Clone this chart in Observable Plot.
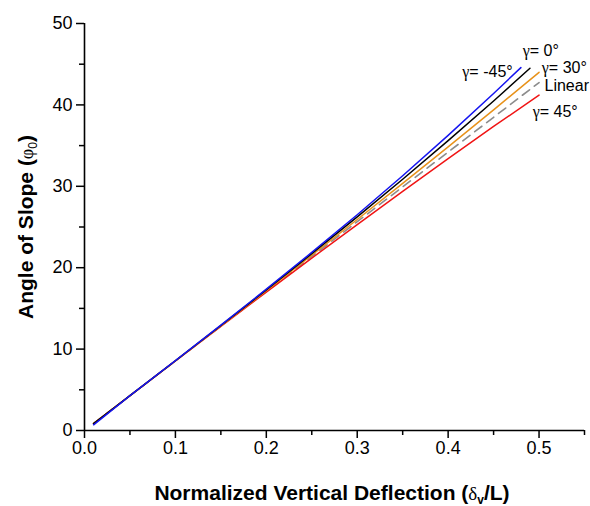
<!DOCTYPE html>
<html>
<head>
<meta charset="utf-8">
<script src="https://cdn.jsdelivr.net/npm/d3@7"></script>
<script src="https://cdn.jsdelivr.net/npm/@observablehq/plot@0.6"></script>
<style>
  body { margin: 0; background: white; }
  #chart { width: 590px; height: 506px; }
</style>
</head>
<body>
<div id="chart"></div>
<script>
// Normalized vertical deflection (x) sample points per series
const xNeg45 = [0.01, 0.05, 0.10, 0.15, 0.20, 0.25, 0.30, 0.35, 0.40, 0.45, 0.48];
const yNeg45 = [0.70, 4.28, 8.58, 12.94, 17.36, 21.88, 26.51, 31.30, 36.25, 41.40, 44.58];

const xZero = [0.01, 0.05, 0.10, 0.15, 0.20, 0.25, 0.30, 0.35, 0.40, 0.45, 0.49];
const yZero = [0.85, 4.28, 8.57, 12.90, 17.28, 21.72, 26.24, 30.87, 35.61, 40.48, 44.50];

const xThirty = [0.01, 0.05, 0.10, 0.15, 0.20, 0.25, 0.30, 0.35, 0.40, 0.45, 0.50];
const yThirty = [0.85, 4.28, 8.56, 12.86, 17.18, 21.53, 25.92, 30.36, 34.84, 39.39, 44.00];

const xLinear = [0.01, 0.05, 0.10, 0.15, 0.20, 0.25, 0.30, 0.35, 0.40, 0.45, 0.50];
const yLinear = [0.86, 4.28, 8.55, 12.83, 17.10, 21.38, 25.65, 29.93, 34.20, 38.48, 42.75];

const xPos45 = [0.01, 0.05, 0.10, 0.15, 0.20, 0.25, 0.30, 0.35, 0.40, 0.45, 0.50];
const yPos45 = [0.85, 4.27, 8.54, 12.79, 17.00, 21.18, 25.30, 29.38, 33.40, 37.35, 41.20];

// Tick values
const xMajorTicks = [0, 0.1, 0.2, 0.3, 0.4, 0.5];
const xMinorTicks = [0.05, 0.15, 0.25, 0.35, 0.45, 0.55];
const yMajorTicks = [0, 10, 20, 30, 40, 50];
const yMinorTicks = [5, 15, 25, 35, 45];

// Curve labels
const labelText = ["γ= -45°", "γ= 0°", "γ= 30°", "Linear", "γ= 45°"];
const labelX = [0.471, 0.482, 0.503, 0.506, 0.493];
const labelY = [44.1, 46.6, 44.6, 42.3, 39.2];
const labelAnchor = ["end", "start", "start", "start", "start"];

const toRows = (xs, ys) => xs.map((x, i) => ({x, y: ys[i]}));
const labels = labelText.map((t, i) => ({t, x: labelX[i], y: labelY[i], a: labelAnchor[i]}));

const font = "'Liberation Sans', Arial, Helvetica, sans-serif";
const serif = "'Liberation Serif', 'Times New Roman', serif";

const plot = Plot.plot({
  width: 590,
  height: 506,
  marginLeft: 84,
  marginRight: 6,
  marginTop: 23,
  marginBottom: 76,
  style: {fontFamily: font, fontSize: "18px", color: "black", background: "white"},
  x: {domain: [0, 0.55], label: null},
  y: {domain: [0, 50], label: null},
  marks: [
    Plot.line(toRows(xLinear, yLinear), {x: "x", y: "y", stroke: "#8c8c8c", strokeWidth: 1.6, strokeDasharray: "9,6"}),
    Plot.line(toRows(xPos45, yPos45), {x: "x", y: "y", stroke: "#f01414", strokeWidth: 1.5}),
    Plot.line(toRows(xThirty, yThirty), {x: "x", y: "y", stroke: "#e8921a", strokeWidth: 1.5}),
    Plot.line(toRows(xZero, yZero), {x: "x", y: "y", stroke: "#000000", strokeWidth: 1.5}),
    Plot.line(toRows(xNeg45, yNeg45), {x: "x", y: "y", stroke: "#1414f0", strokeWidth: 1.5}),
    Plot.axisX({ticks: xMajorTicks, tickSize: 8, tickPadding: 3, tickFormat: d3.format(".1f"), strokeWidth: 1.5, fontSize: 18, label: null}),
    Plot.axisX({ticks: xMinorTicks, tickSize: 5, tickFormat: () => "", strokeWidth: 1.5, label: null}),
    Plot.axisY({ticks: yMajorTicks, tickSize: 8, tickPadding: 4, strokeWidth: 1.5, fontSize: 18, label: null}),
    Plot.axisY({ticks: yMinorTicks, tickSize: 5, tickFormat: () => "", strokeWidth: 1.5, label: null}),
    Plot.ruleY([0], {stroke: "black", strokeWidth: 1.6}),
    Plot.ruleX([0], {stroke: "black", strokeWidth: 1.6}),
    Plot.text(labels, {x: "x", y: "y", text: "t", textAnchor: "end", fontSize: 16, fill: "black", filter: d => d.a === "end", className: "curve-label"}),
    Plot.text(labels, {x: "x", y: "y", text: "t", textAnchor: "start", fontSize: 16, fill: "black", filter: d => d.a === "start", className: "curve-label"})
  ]
});

const svg = d3.select(plot);

// Serif gamma in curve labels
svg.selectAll(".curve-label text").each(function() {
  const el = d3.select(this);
  const s = el.text();
  if (s.startsWith("γ")) {
    el.text(null);
    el.append("tspan").attr("font-family", serif).text("γ");
    el.append("tspan").text(s.slice(1));
  }
});

// Axis titles with sub-scripts
const yl = svg.append("text")
  .attr("transform", "translate(33,227) rotate(-90)")
  .attr("text-anchor", "middle")
  .attr("font-family", font)
  .attr("font-weight", "bold")
  .attr("font-size", 21)
  .attr("fill", "black");
yl.append("tspan").text("Angle of Slope (");
yl.append("tspan").attr("font-weight", "normal").attr("font-family", serif).attr("font-size", 18).text("φ");
yl.append("tspan").attr("font-weight", "normal").attr("font-size", 12).attr("dy", 4).text("0");
yl.append("tspan").attr("dy", -4).text(")");

const xl = svg.append("text")
  .attr("x", 332)
  .attr("y", 500)
  .attr("text-anchor", "middle")
  .attr("font-family", font)
  .attr("font-weight", "bold")
  .attr("font-size", 21)
  .attr("fill", "black");
xl.append("tspan").text("Normalized Vertical Deflection (");
xl.append("tspan").attr("font-weight", "normal").attr("font-family", serif).attr("font-size", 19).text("δ");
xl.append("tspan").attr("font-size", 12).attr("dy", 4).text("v");
xl.append("tspan").attr("dy", -4).text("/L)");

document.getElementById("chart").appendChild(plot);
</script>
</body>
</html>
